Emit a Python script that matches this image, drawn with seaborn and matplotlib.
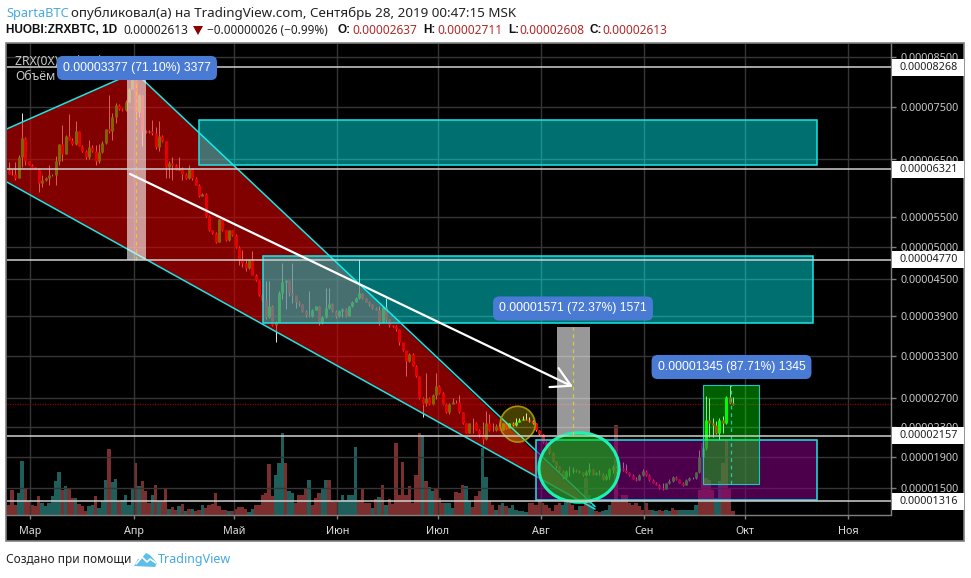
import numpy as np
import pandas as pd
import matplotlib
matplotlib.use("Agg")
import matplotlib.pyplot as plt
import seaborn as sns
from matplotlib.patches import Polygon, Rectangle, Ellipse
from matplotlib.transforms import Affine2D, IdentityTransform

# -------------------------------------------------------------------
# Data (prices in 1e-8 BTC, days counted from 1 March 2019)
# -------------------------------------------------------------------

closes = [
    6240, 6230, 6165, 6550, 6915, 6470, 6400, 6360, 6325, 6085, 6125, 6165, 6210, 6215, 6470, 6790, 6610, 6950,
    6880, 6790, 7035, 6760, 6665, 6550, 6730, 6665, 6470, 6640, 6815, 7080, 7035, 7305, 7540, 7460, 7445, 7600,
    7850, 8070, 7410, 7740, 7035, 7030, 7040, 7000, 6730, 6950, 6850, 6355, 6440, 6400, 6310, 6340, 6240, 6165,
    6330, 6165, 6050, 5865, 5900, 5515, 5280, 5240, 5090, 5460, 5280, 5120, 5280, 5200, 5000, 4770,
    4725, 4655, 4770, 4560, 4485, 4240, 4160, 3890, 4070, 3760, 3815, 4270, 4455, 4485, 4270, 4240, 4130, 4090,
    3975, 3915, 3900, 4000, 4055, 3790, 3890, 4030, 4095, 3975, 3900, 3975, 4020, 3900, 4055, 4130, 4190, 4270,
    4190, 4130, 4090, 4030, 4000, 3790, 4040, 3850, 3760, 3750, 3700, 3505, 3390, 3225, 3330, 3160, 3010, 2700,
    2630, 2700, 2620, 2740, 2870, 2770, 2620, 2500, 2620, 2650, 2640, 2500, 2350, 2210, 2350, 2360, 2260, 2190,
    2120, 2360, 2260, 2250, 2320, 2260, 2350, 2290, 2350, 2325, 2375, 2400, 2415, 2400, 2380, 2350, 2245, 2190,
    2085, 2050, 1950, 1845, 1780, 1720, 1640, 1720, 1725, 1730, 1720, 1700, 1665, 1710, 1740, 1680, 1690, 1680,
    1610, 1660, 1750, 1770, 1700, 1760, 1730, 1700, 1670, 1620, 1605, 1670, 1720, 1670, 1605, 1570, 1545, 1500,
    1480, 1560, 1590, 1640, 1610, 1570, 1545, 1600, 1630, 1625, 1700, 1905, 2015, 2400, 2350, 2330, 2210, 2400,
    2350, 2720, 2637, 2613,
]
highs = [
    6445, 6330, 6445, 6580, 7390, 6930, 6480, 6410, 6365, 6345, 6210, 6180, 6400, 6235, 6560, 6800, 7150, 6960,
    7360, 6900, 7230, 7040, 6770, 6680, 6880, 6780, 6770, 6790, 6850, 7090, 7740, 7390, 7570, 7560, 7480, 7640,
    7870, 8320, 8240, 7760, 7740, 7060, 7060, 7260, 7110, 7240, 6970, 6860, 6470, 6550, 6420, 6550, 6350, 6260,
    6400, 6340, 6180, 6060, 5915, 5905, 5530, 5290, 5250, 5470, 5470, 5290, 5290, 5290, 5210, 5010,
    4950, 4780, 4780, 4925, 4570, 4490, 4250, 4470, 4470, 4080, 3830, 4300, 4730, 4490, 4480, 4730, 4190, 4150,
    4100, 3990, 4300, 4020, 4065, 4060, 3900, 4350, 4350, 4110, 3990, 3990, 4030, 4030, 4070, 4140, 4200, 4780,
    4280, 4195, 4140, 4100, 4040, 4060, 4060, 4190, 3860, 3770, 3760, 3700, 3500, 3340, 3350, 3340, 3170, 3020,
    2710, 3060, 2710, 2750, 3060, 2880, 2790, 2630, 2630, 2700, 2670, 2740, 2510, 2360, 2360, 2420, 2370, 2270,
    2370, 2520, 2480, 2360, 2340, 2350, 2360, 2370, 2360, 2370, 2420, 2430, 2450, 2490, 2440, 2400, 2355, 2250,
    2195, 2090, 2060, 1960, 1850, 1790, 1730, 1730, 1780, 1770, 1745, 1730, 1710, 1730, 1820, 1750, 1710, 1730,
    1690, 1680, 1760, 1800, 1780, 1770, 1830, 1810, 1710, 1680, 1640, 1680, 1750, 1730, 1680, 1610, 1580, 1550,
    1560, 1570, 1610, 1660, 1650, 1620, 1580, 1610, 1640, 1640, 1710, 1990, 2100, 2735, 2700, 2420, 2380, 2420,
    2450, 2730, 2885, 2711,
]
lows = [
    6230, 6215, 6130, 6160, 6355, 6400, 6390, 6350, 6315, 5925, 6010, 6110, 6050, 6200, 6050, 6400, 6470, 6600,
    6870, 6770, 6780, 6750, 6650, 6500, 6500, 6640, 6400, 6440, 6620, 6800, 7000, 6880, 7200, 7440, 7430, 7430,
    7590, 7840, 7250, 7300, 6760, 7000, 7010, 6960, 6700, 6660, 6830, 6170, 6170, 6130, 6300, 6300, 6130, 6150,
    6150, 6130, 6040, 5850, 5860, 5500, 5270, 5220, 5060, 5080, 5270, 5100, 5100, 5190, 4990, 4700,
    4670, 4620, 4640, 4550, 4470, 4230, 4150, 3860, 3870, 3750, 3510, 3810, 4180, 4020, 4230, 4110, 4030, 4060,
    3960, 3890, 3880, 3890, 3990, 3770, 3780, 3870, 4020, 3960, 3870, 3880, 3890, 3880, 3900, 4040, 4120, 4180,
    4180, 4120, 4070, 4020, 3990, 3760, 3790, 3790, 3740, 3730, 3680, 3470, 3380, 3010, 3220, 3150, 3000, 2690,
    2440, 2590, 2600, 2610, 2680, 2760, 2600, 2490, 2480, 2620, 2630, 2490, 2340, 2200, 2200, 2210, 2250, 2150,
    2060, 2110, 2240, 2240, 2240, 2250, 2250, 2270, 2280, 2310, 2320, 2370, 2390, 2390, 2370, 2340, 2235, 2180,
    2070, 2040, 1940, 1830, 1760, 1700, 1620, 1620, 1660, 1690, 1700, 1690, 1650, 1650, 1670, 1670, 1670, 1670,
    1600, 1600, 1620, 1690, 1690, 1700, 1720, 1690, 1660, 1610, 1590, 1600, 1660, 1660, 1590, 1560, 1535, 1490,
    1470, 1490, 1550, 1580, 1600, 1560, 1530, 1540, 1590, 1610, 1610, 1690, 1900, 1990, 2150, 2150, 2190, 2110,
    2200, 2340, 2620, 2608,
]
first_open = 6300

volumes = [
    30, 75, 30, 65, 160, 80, 40, 30, 25, 55, 35, 25, 35, 55, 100, 127, 75, 85, 80, 50, 50, 33, 25, 12, 25, 30, 55, 20,
    42, 103, 196, 97, 108, 40, 45, 60, 30, 78, 154, 85, 100, 70, 35, 58, 88, 42, 40, 78, 18, 22, 15, 25, 32, 12, 18, 18,
    10, 15, 28, 20, 28, 32, 65, 25, 15, 15, 10, 12, 18, 22, 22, 18, 8, 18, 30, 30, 58, 65, 152, 55, 118, 155, 244, 155,
    70, 65, 35, 58, 60, 80, 105, 30, 50, 65, 80, 103, 103, 40, 38, 40, 58, 45, 60, 60, 203, 45, 76, 35, 35, 20, 48, 52,
    88, 30, 48, 32, 215, 60, 157, 60, 85, 35, 118, 244, 240, 100, 82, 70, 80, 50, 35, 35, 35, 20, 68, 65, 90, 85, 40, 22,
    55, 72, 200, 112, 40, 30, 15, 30,
    35, 25, 20, 30, 15, 10, 12, 8, 35, 35, 30, 45, 35, 30, 20, 10, 30, 35, 30, 40, 35, 30, 15, 25, 25, 110, 60, 30,
    10, 8, 10, 15, 30, 40, 270, 45, 60, 60, 35, 30, 35, 25, 15, 35, 15, 15, 12, 15, 12, 15, 10, 20, 15, 15, 15, 15, 15, 15,
    30, 75, 215, 110, 105, 75, 50, 100, 155, 220, 80, 12,
]
volume_sides = list(
    "rrrggrrrrrggggggrgrrgrrrggrg"
    "ggrggrggggrgrrrgrgrrgrrgrgrg"
    "rrgrrrrrrrgrrrrrggrrrrrrgggr"
    "ggrrrrgrrrggrrrggggggrrrrgrg"
    "rgrrrrrrrrrrgrggrrrgggrrrggr"
    "rrggrrgr"
    "grggggggrrrrrrrrrrggrrrgrr"
    "ggrrgggrrrrrrrrrrrrggrrggrrggg"
    "gggrrrrrggrr"
)

price_ticks = [8500, 7500, 6500, 5500, 5000, 4500, 3900, 3300, 2700, 2300, 1900, 1500]
level_prices = [8268, 6321, 4770, 2157, 1316]
last_price = 2613

month_days = [0, 31, 61, 92, 122, 153, 184, 214, 245]
month_names = ["Мар", "Апр", "Май", "Июн", "Июл", "Авг", "Сен", "Окт", "Ноя"]

# price axis of the snapshot: price and the screen row it sits on
scale_prices = [1125, 1316, 1500, 1900, 2157, 2300, 2700, 3300, 3900, 4500, 4770, 5000, 5500, 6321, 6500, 7500, 8268, 8500, 8780]
scale_rows = [514.5, 501.3, 488, 457, 436, 427, 398, 356, 316, 279, 260, 247, 217, 169, 159.5, 107, 67.3, 57, 44]

# -------------------------------------------------------------------
# Candle and volume tables
# -------------------------------------------------------------------

n = len(closes)
candles = pd.DataFrame({"close": closes, "high": highs, "low": lows})
candles["open"] = [first_open] + closes[:-1]
candles["day"] = np.arange(212 - n, 212) - 0.5
candles["up"] = candles["close"] >= candles["open"]

# side letters run short of the bars by a couple, pad with down days
sides = volume_sides + ["r"] * (len(volumes) - len(volume_sides))
vol = pd.DataFrame({"volume": volumes, "side": sides[:len(volumes)]})
vol["day"] = np.arange(-6, -6 + len(vol)) - 0.5

# -------------------------------------------------------------------
# Figure
# -------------------------------------------------------------------

sns.set_theme(style="dark", rc={"axes.facecolor": "none", "figure.facecolor": "white"})
plt.rcParams["font.family"] = ["Noto Sans", "DejaVu Sans"]

W, H = 971, 578
fig = plt.figure(figsize=(W / 100, H / 100), dpi=100)
pix = Affine2D().scale(1 / W, -1 / H).translate(0, 1) + fig.transFigure

fig.add_artist(Rectangle((6, 43), 958, 498, transform=pix, fc="black", ec="#808080", lw=1.2, zorder=-5))

ax_vol = fig.add_axes([7 / W, 1 - 514.5 / H, 884 / W, 100 / H], zorder=0)
ax = fig.add_axes([7 / W, 1 - 514.5 / H, 884 / W, 470.5 / H], zorder=1)
day_lim = (-7.04, 257.9)

# -------------------------------------------------------------------
# Volume
# -------------------------------------------------------------------

sns.barplot(data=vol, x="day", y="volume", hue="side", native_scale=True, dodge=False, width=1.0,
            palette={"g": "#1f5f5b", "r": "#7a2f2e"}, saturation=1, linewidth=0, legend=False, ax=ax_vol)
ax_vol.set_xlim(day_lim)
ax_vol.set_ylim(0, 300)
ax_vol.axis("off")

# -------------------------------------------------------------------
# Price axes
# -------------------------------------------------------------------

ax.set_yscale("function", functions=(lambda p: -np.interp(p, scale_prices, scale_rows),
                                     lambda r: np.interp(-r, scale_rows[::-1], scale_prices[::-1])))
ax.set_xlim(day_lim)
ax.set_ylim(1125, 8780)
ax.set_yticks(price_ticks)
ax.set_yticklabels([f"0.{p:08d}" for p in price_ticks])
ax.minorticks_off()
ax.yaxis.tick_right()
ax.set_xticks(month_days)
ax.set_xticklabels(month_names)
ax.tick_params(axis="y", length=3.6, width=1, color="#808080", labelcolor="#c8c8c8", labelsize=7.8, pad=2.9, right=True)
ax.tick_params(axis="x", length=3, width=1, color="#808080", labelcolor="#dcdcdc", labelsize=7.8, pad=5, bottom=True)
ax.grid(True, color="#363636", lw=1)
ax.set_axisbelow(True)
ax.set_xlabel("")
ax.set_ylabel("")
for side, spine in ax.spines.items():
    spine.set_visible(side in ("right", "bottom"))
    spine.set_color("#808080")
    spine.set_linewidth(1)

# -------------------------------------------------------------------
# Candles
# -------------------------------------------------------------------

ax.vlines(candles["day"], candles["low"], candles["high"], color="#e8e8e8", lw=0.7, zorder=2)
body_colors = np.where(candles["up"], "#00ff00", "#ff0000")
ax.vlines(candles["day"], candles[["open", "close"]].min(axis=1), candles[["open", "close"]].max(axis=1),
          color=body_colors, lw=2.1, zorder=3)
ax.axhline(last_price, color="#8b0000", lw=0.9, ls=(0, (1, 1)), zorder=2)

# -------------------------------------------------------------------
# Drawings
# -------------------------------------------------------------------

cyan = "#1de4e4"
channel = [(-7.04, 7084), (29.8, 8130), (32.5, 8100), (169.2, 1203), (-7.04, 6097)]
ax.add_patch(Polygon(channel, closed=True, fc=(0.85, 0, 0, 0.6), ec="none", zorder=4))
ax.plot([-7.04, 29.8, 32.5, 169.2], [7084, 8130, 8100, 1240], color=cyan, lw=1.1, zorder=5)
ax.plot([-7.04, 169.2], [6097, 1203], color=cyan, lw=1.1, zorder=5)


def box(d0, d1, p0, p1, fill, edge, lw=1.1):
    ax.add_patch(Rectangle((d0, p0), d1 - d0, p1 - p0, fc=fill, ec=edge, lw=lw, zorder=5))


box(50.6, 235.7, 6395, 7245, (0, 1, 1, 0.44), cyan)
box(69.7, 234.4, 3795, 4835, (0, 1, 1, 0.44), cyan)
box(151.6, 235.7, 1337, 2104, (0.5, 0, 0.5, 0.6), cyan)
box(201.5, 218.4, 1550, 2890, (0, 1, 0, 0.38), "#16c8c8", lw=0.8)
box(28.8, 34.6, 4770, 8147, (1, 1, 1, 0.6), "none", lw=0)
box(157.8, 167.7, 2171, 3742, (1, 1, 1, 0.6), "none", lw=0)

ax.add_patch(Ellipse((164.4, 1755), 24, 905, fc=(0, 0.9, 0, 0.5), ec="#19f5b0", lw=2.2, zorder=6))
ax.add_patch(Ellipse((146, 2334), 10.5, 503, fc=(1, 0.9, 0, 0.28), ec="#a89400", lw=1.2, zorder=6))

ax.plot([31.7, 31.7], [4770, 8147], color="#f2c23a", lw=0.9, ls=(0, (3, 3)), zorder=7)
ax.plot([162.7, 162.7], [2171, 3742], color="#d8c84a", lw=0.9, ls=(0, (3, 3)), zorder=7)
ax.plot([209.9, 209.9], [1550, 2880], color="#2ac8a8", lw=0.9, ls=(0, (3, 3)), zorder=7)

ax.annotate("", xy=(162.6, 2861), xytext=(29.8, 6237), zorder=8,
            arrowprops=dict(arrowstyle="->,head_length=0.75,head_width=0.42", color="white", lw=1.6,
                            mutation_scale=18, shrinkA=0, shrinkB=0))

for p in level_prices:
    ax.axhline(p, color="#d0d0d0", lw=1.1, zorder=7)

# price boxes on the right scale
fig.canvas.draw()
for p in level_prices:
    y = ax.transData.transform((0, p))[1]
    fig.add_artist(Rectangle((891.5, y - 8.5), 72, 17, transform=IdentityTransform(), fc="white", ec="none", zorder=5))
    fig.text(900, y, f"0.{p:08d}", transform=IdentityTransform(), color="#202020", fontsize=7.8,
             va="center", ha="left", zorder=6)

# measure labels
labels = ["0.00003377 (71.10%) 3377", "0.00001571 (72.37%) 1571", "0.00001345 (87.71%) 1345"]
label_xy = [(137, 68), (573, 308.5), (731.5, 367)]
for txt, (lx, ly) in zip(labels, label_xy):
    fig.text(lx, ly, txt, transform=pix, color="white", fontsize=8.7, family="Liberation Sans", ha="center", va="center",
             zorder=6, bbox=dict(boxstyle="round,pad=0.5", fc="#4a7bd4", ec="none"))

fig.text(15, 61, "ZRX(0X) / Bitcoin, 1Д, HUOBI", transform=pix, color="#c8c8c8", fontsize=8.8, va="center", zorder=4)
fig.text(15, 77, "Объём", transform=pix, color="#c8c8c8", fontsize=8.8, va="center", zorder=4)

# -------------------------------------------------------------------
# Header and footer
# -------------------------------------------------------------------

blue = "#45a9e0"
red = "#b02a2a"
fig.text(6, 13, "SpartaBTC", transform=pix, color=blue, fontsize=9.2, va="center")
fig.text(71, 13, "опубликовал(а) на TradingView.com, Сентябрь 28, 2019 00:47:15 MSK", transform=pix,
         color="#222222", fontsize=9.65, va="center")
fig.text(6, 30, "HUOBI:ZRXBTC, 1D", transform=pix, color="#111111", fontsize=8.5, fontweight="bold",
         family="Liberation Sans", va="center")
fig.text(123, 30, "0.00002613", transform=pix, color="#222222", fontsize=8.6, va="center")
fig.add_artist(Polygon([(193, 26), (203, 26), (198, 35)], closed=True, transform=pix, fc="#8b0000", ec="none"))
fig.text(207, 30, "−0.00000026 (−0.99%)", transform=pix, color="#222222", fontsize=8.45, va="center")
ohlc_names = ["O:", "H:", "L:", "C:"]
ohlc_values = ["0.00002637", "0.00002711", "0.00002608", "0.00002613"]
ohlc_name_x = [338, 423, 508.5, 590]
ohlc_value_x = [352, 437.5, 519, 602]
for name, value, nx, vx in zip(ohlc_names, ohlc_values, ohlc_name_x, ohlc_value_x):
    fig.text(nx, 30, name, transform=pix, color="#111111", fontsize=8.5, fontweight="bold",
             family="Liberation Sans", va="center")
    fig.text(vx, 30, value, transform=pix, color=red, fontsize=8.6, va="center")

fig.text(6, 560, "Создано при помощи", transform=pix, color="#222222", fontsize=8.5, va="center")
fig.add_artist(Polygon([(134, 566), (138, 559), (141, 559), (146, 553), (150, 555), (157, 563), (155, 567)],
                       closed=True, transform=pix, fc="#5bbfe8", ec="none"))
fig.add_artist(plt.Line2D([136, 142, 147, 150, 156], [564, 557, 562, 559, 563], transform=pix, color="white", lw=1.2))
fig.text(158, 560, "TradingView", transform=pix, color=blue, fontsize=9, va="center")

fig.savefig("out.png", dpi=100)
